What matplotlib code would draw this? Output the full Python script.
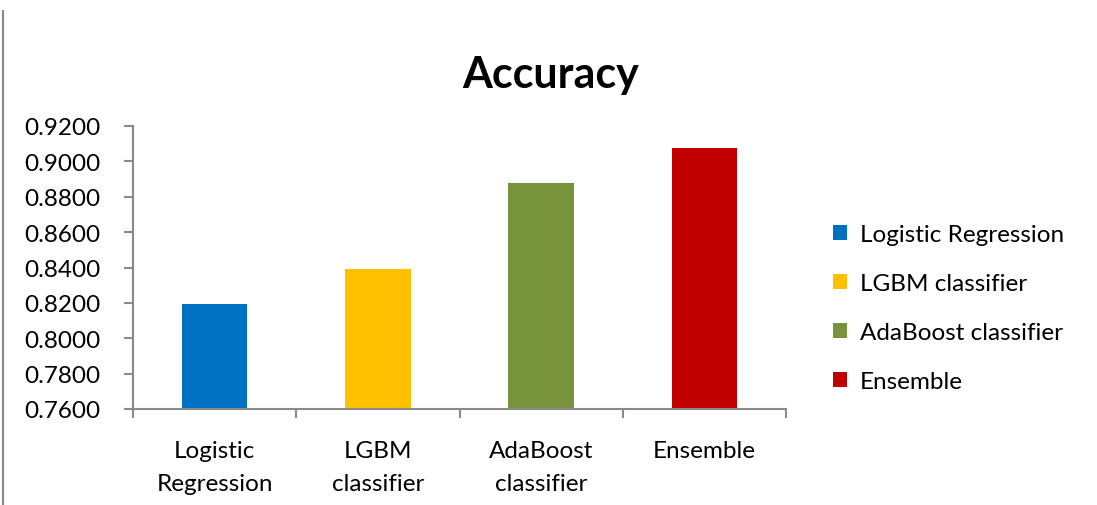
import matplotlib
matplotlib.use("Agg")
import matplotlib.pyplot as plt
from matplotlib.patches import Patch
from matplotlib.lines import Line2D
import numpy as np

plt.rcParams["font.family"] = ["Lato", "DejaVu Sans"]

# ---------------------------------------------------------------------------
# data
MODELS = ["Logistic Regression", "LGBM classifier", "AdaBoost classifier", "Ensemble"]
TICK_LABELS = ["Logistic\nRegression", "LGBM\nclassifier", "AdaBoost\nclassifier", "Ensemble"]
ACCURACY = [0.8196, 0.8394, 0.8875, 0.9074]
COLORS = ["#0070C0", "#FFC000", "#77933C", "#C00000"]
Y_TICKS = [0.76, 0.78, 0.80, 0.82, 0.84, 0.86, 0.88, 0.90, 0.92]

AXIS_GREY = "#898989"
FS = 17.5

# ---------------------------------------------------------------------------
W, H = 1097, 506
fig = plt.figure(figsize=(W / 100, H / 100), dpi=100)
ax = fig.add_axes([133 / W, 1 - 410 / H, (786 - 133) / W, (410 - 127) / H])

x = np.arange(len(MODELS))
ax.bar(x, ACCURACY, width=0.4, color=COLORS, zorder=2)

ax.set_xlim(-0.5, len(MODELS) - 0.5)
ax.set_ylim(Y_TICKS[0], Y_TICKS[-1])

ax.set_yticks(Y_TICKS)
ax.set_yticklabels([f"{v:.4f}" for v in Y_TICKS], fontsize=FS)
ax.tick_params(axis="y", direction="out", length=6.5, width=1.5,
               color=AXIS_GREY, pad=17)

ax.set_xticks(x)
ax.set_xticklabels(TICK_LABELS, fontsize=FS, linespacing=1.7)
ax.tick_params(axis="x", which="major", length=0, pad=22.5)
ax.set_xticks(np.arange(len(MODELS) + 1) - 0.5, minor=True)
ax.tick_params(axis="x", which="minor", direction="out", length=6.5,
               width=1.5, color=AXIS_GREY)

for side in ("top", "right"):
    ax.spines[side].set_visible(False)
for side in ("left", "bottom"):
    ax.spines[side].set_color(AXIS_GREY)
    ax.spines[side].set_linewidth(1.5)

fig.text(551 / W, 1 - 75 / H, "Accuracy", fontsize=31, fontweight="bold",
         ha="center", va="center")

handles = [Patch(facecolor=c, edgecolor="none") for c in COLORS]
fig.legend(handles, MODELS, loc="center left",
           bbox_to_anchor=(811 / W, 1 - 309 / H), frameon=False,
           fontsize=FS, handlelength=0.6, handleheight=0.6,
           handletextpad=0.5, labelspacing=1.15)

# left frame line of the original slide
fig.add_artist(Line2D([3 / W, 3 / W], [0, 1 - 12 / H], color=AXIS_GREY,
                      linewidth=1.5, transform=fig.transFigure))

fig.savefig("out.png", dpi=100)
